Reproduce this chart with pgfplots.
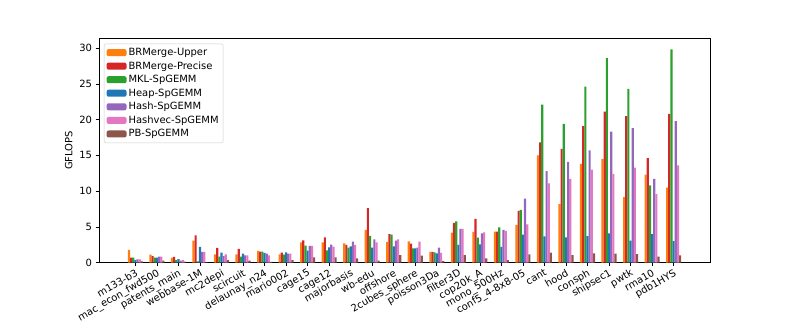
\documentclass[border=0pt]{standalone}
\usepackage{fontspec}
\setmainfont{DejaVu Sans}
\usepackage{pgfplots}
\usepackage{pgfplotstable}
\pgfplotsset{compat=1.18}

\definecolor{cup}{HTML}{FF7F0E}
\definecolor{cpr}{HTML}{D62728}
\definecolor{cmkl}{HTML}{2CA02C}
\definecolor{cheap}{HTML}{1F77B4}
\definecolor{chash}{HTML}{9467BD}
\definecolor{chvec}{HTML}{E377C2}
\definecolor{cpb}{HTML}{8C564B}

% GFLOPS per matrix
\pgfplotstableread{
idx up    pr    mkl   heap  hash  hvec  pb
0   1.78  0.70  0.70  0.37  0.47  0.47  0.20
1   1.12  0.93  0.70  0.70  0.84  0.84  0.28
2   0.70  0.80  0.37  0.50  0.28  0.37  0.14
3   3.08  3.83  0.19  2.20  1.50  1.50  0.05
4   1.17  2.06  0.84  1.40  0.93  1.17  0.37
5   1.17  1.92  0.84  1.26  1.03  1.03  0.28
6   1.64  1.54  1.54  1.36  1.26  1.03  0.10
7   1.17  1.40  1.12  1.45  1.26  1.26  0.37
8   2.85  3.13  2.38  1.68  2.34  2.34  0.75
9   2.85  3.55  1.73  2.15  2.52  2.24  0.75
10  2.71  2.48  2.10  2.29  2.94  2.48  0.61
11  4.58  7.62  3.74  2.10  3.27  2.85  0.30
12  2.90  4.00  3.93  2.29  3.08  3.27  1.07
13  2.99  2.66  2.00  2.00  2.10  2.94  0.98
14  1.50  1.50  1.45  1.31  2.10  1.36  0.23
15  4.20  5.56  5.79  2.48  4.72  4.72  1.07
16  4.30  6.12  3.51  2.57  4.11  4.25  0.61
17  4.35  4.35  4.95  2.20  4.58  4.44  0.37
18  5.27  7.24  7.38  3.92  8.96  5.37  1.17
19  15.0  16.8  22.1  3.69  12.8  11.1  1.40
20  8.20  15.9  19.4  3.55  14.1  11.7  1.07
21  13.8  19.1  24.6  3.73  15.7  13.0  1.31
22  14.5  21.1  28.6  4.10  18.3  12.4  1.26
23  9.15  20.5  24.3  3.08  18.8  13.3  1.21
24  12.3  14.6  10.8  4.00  11.7  9.60  0.84
25  10.5  20.8  29.8  3.00  19.8  13.6  1.03
}\data

\begin{document}
\begin{tikzpicture}
\path (0bp,0bp) rectangle (789bp,-329bp);
\begin{axis}[
    at={(99bp,-262.7bp)}, anchor=south west,
    scale only axis,
    width=611bp, height=224.7bp,
    xmin=-1.69, xmax=26.69,
    ymin=0, ymax=31.4,
    ybar=0pt, bar width=0.1,
    ytick={0,5,10,15,20,25,30},
    xtick={0,...,25},
    xticklabels={m133-b3,mac\_econ\_fwd500,patents\_main,webbase-1M,mc2depi,scircuit,delaunay\_n24,mario002,cage15,cage12,majorbasis,wb-edu,offshore,2cubes\_sphere,poisson3Da,filter3D,cop20k\_A,mono\_500Hz,conf5\_4-8x8-05,cant,hood,consph,shipsec1,pwtk,rma10,pdb1HYS},
    xticklabel style={rotate=30, anchor=north east, inner sep=1.5pt},
    xtick pos=left, ytick pos=left,
    tick align=outside,
    major tick length=3.5bp,
    tick style={black, line width=0.6pt},
    axis line style={line width=0.7pt},
    tick label style={font=\fontsize{10}{12}\selectfont},
    /pgf/number format/assume math mode=true,
    ylabel={GFLOPS},
    ylabel style={font=\fontsize{10}{12}\selectfont},
    legend cell align=left,
    legend style={at={(0.008,0.975)}, anchor=north west, draw=black!20, rounded corners=2pt,
        font=\fontsize{10}{11}\selectfont, row sep=0.6bp, inner sep=2.5pt},
    legend image code/.code={\fill[#1] (0bp,-3.5bp) rectangle (20bp,3.5bp);},
]
\addplot[fill=cup, draw=none] table[x=idx,y=up]{\data};
\addplot[fill=cpr, draw=none] table[x=idx,y=pr]{\data};
\addplot[fill=cmkl, draw=none] table[x=idx,y=mkl]{\data};
\addplot[fill=cheap, draw=none] table[x=idx,y=heap]{\data};
\addplot[fill=chash, draw=none] table[x=idx,y=hash]{\data};
\addplot[fill=chvec, draw=none] table[x=idx,y=hvec]{\data};
\addplot[fill=cpb, draw=none] table[x=idx,y=pb]{\data};
\legend{BRMerge-Upper,BRMerge-Precise,MKL-SpGEMM,Heap-SpGEMM,Hash-SpGEMM,Hashvec-SpGEMM,PB-SpGEMM}
\end{axis}
\end{tikzpicture}
\end{document}
